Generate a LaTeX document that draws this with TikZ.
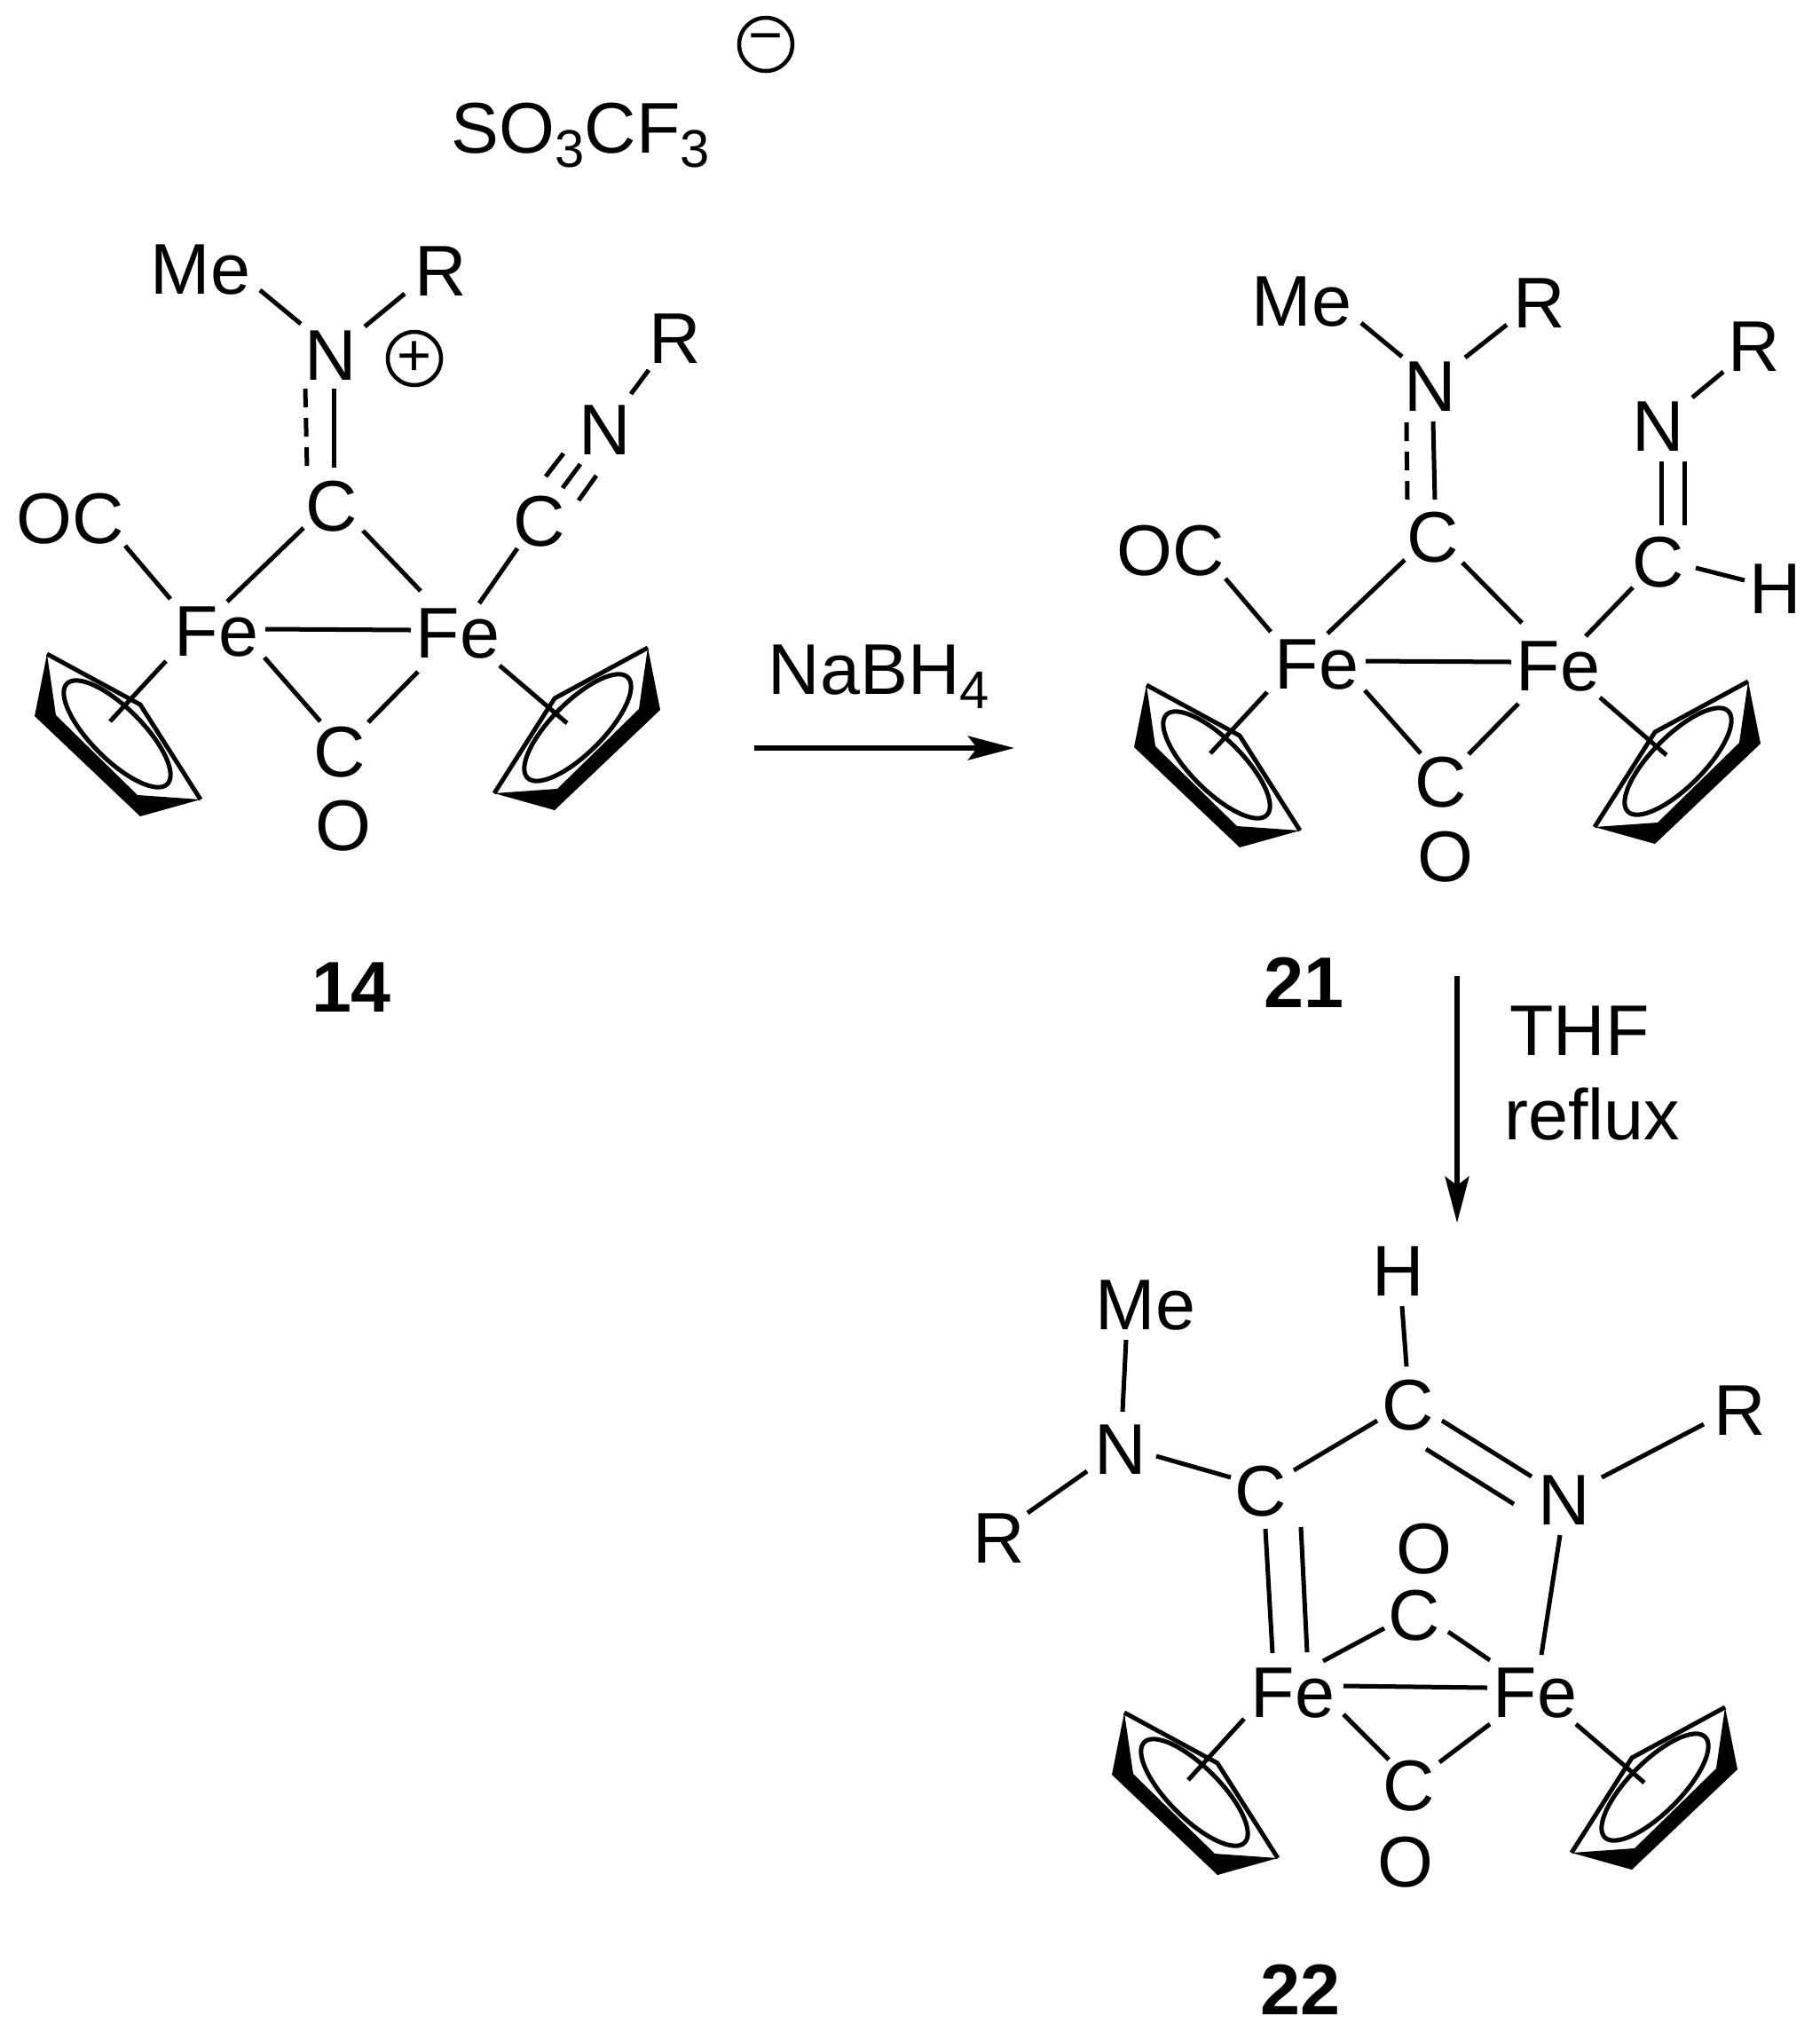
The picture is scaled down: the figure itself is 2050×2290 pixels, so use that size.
\documentclass[tikz,border=0pt]{standalone}
\usepackage{fontspec}
\setmainfont{Liberation Sans}
\usetikzlibrary{arrows.meta}
\tikzset{
	atom/.style={font=\fontsize{23}{26}\selectfont,inner sep=0pt},
	lbl/.style={font=\fontsize{23}{26}\selectfont\bfseries,inner sep=0pt},
	bond/.style={line width=.05cm},
	charge/.style={draw,circle,line width=.045cm,minimum size=.6cm,inner sep=0pt,font=\fontsize{19}{20}\selectfont},
	cp/.pic={
		\fill (-79,-90) -- (-93,-20) -- (26,93) -- (94,74) -- (23,69) -- (-69,-21) -- cycle;
		\draw[bond,line join=round] (-79,-90) -- (26,-33) -- (94,74);
		\draw[bond,rotate=-45] (0,0) ellipse (80 and 29);
	}
}
\newcommand{\bnd}[5][]{\draw[bond,#1] ([shift={(#3)}]#2.center) -- ([shift={(#5)}]#4.center);}
\newcommand{\lowidx}[1]{\raisebox{-.2em}{\fontsize{17}{18}\selectfont #1}}
\begin{document}
\begin{tikzpicture}[x=.01cm,y=-.01cm,>={Stealth[length=.52cm,width=.27cm,inset=.1cm]}]
	\useasboundingbox (0,0) rectangle (2050,2290);
	% counter ion
	\node[atom,anchor=base west] (so) at (508,172) {SO\lowidx{3}CF\lowidx{3}};
	\node[charge] (minus) at (863,50) {−};
	% 14
	\node[atom] (me14) at (226,304) {Me};
	\node[atom] (r14) at (497,306) {R};
	\node[atom] (n14) at (373,401) {N};
	\node[charge] (plus14) at (467,404) {+};
	\node[atom] (c14) at (374,571) {C};
	\node[atom] (oc14) at (79,585) {OC};
	\node[atom] (fel14) at (244,712) {Fe};
	\node[atom] (fer14) at (516,714) {Fe};
	\node[atom] (cn14) at (608,588) {C};
	\node[atom] (nn14) at (682,485) {N};
	\node[atom] (rr14) at (761,382) {R};
	\node[atom] (cb14) at (383,848) {C};
	\node[atom] (ob14) at (387,931) {O};
	\node[lbl] (lbl14) at (396,1113) {14};
	\coordinate (cpl14) at (132,827);
	\coordinate (cpr14) at (651,820);
	\pic at (cpl14) {cp};
	\pic[xscale=-1] at (cpr14) {cp};
	\bnd{me14}{67,23}{n14}{-34,-36}
	\bnd{r14}{-41,25}{n14}{38,-33}
	\bnd{n14}{3,37}{c14}{2,-44}
	\bnd[dash pattern=on .21cm off .12cm]{n14}{-29,37}{c14}{-28,-44}
	\bnd{c14}{-32,24}{fel14}{12,-34}
	\bnd{c14}{35,27}{fer14}{-42,-48}
	\bnd{oc14}{62,30}{fel14}{-52,-37}
	\bnd{cn14}{-25,30}{fer14}{24,-34}
	\bnd{cn14}{7,-51}{nn14}{-47,26}
	\bnd{cn14}{26,-38}{nn14}{-28,38}
	\bnd{cn14}{44,-24}{nn14}{-10,51}
	\bnd{nn14}{29,-41}{rr14}{-30,35}
	\bnd{fel14}{55,-3}{fer14}{-53,-4}
	\bnd{fel14}{54,29}{cb14}{-22,-35}
	\bnd{fer14}{-45,43}{cb14}{32,-34}
	\bnd{fel14}{-57,33}{cpl14}{-8,-14}
	\bnd{fer14}{47,36}{cpr14}{-12,-5}
	% 21
	\node[atom] (me21) at (1467,340) {Me};
	\node[atom] (r21) at (1735,342) {R};
	\node[atom] (n21) at (1612,436) {N};
	\node[atom] (c21) at (1615,606) {C};
	\node[atom] (oc21) at (1319,621) {OC};
	\node[atom] (fel21) at (1484,749) {Fe};
	\node[atom] (fer21) at (1756,751) {Fe};
	\node[atom] (cn21) at (1869,634) {C};
	\node[atom] (nn21) at (1869,481) {N};
	\node[atom] (rr21) at (1977,391) {R};
	\node[atom] (h21) at (2001,664) {H};
	\node[atom] (cb21) at (1624,882) {C};
	\node[atom] (ob21) at (1629,966) {O};
	\node[lbl] (lbl21) at (1469,1107) {21};
	\coordinate (cpl21) at (1371,862);
	\coordinate (cpr21) at (1891,858);
	\pic at (cpl21) {cp};
	\pic[xscale=-1] at (cpr21) {cp};
	\bnd{me21}{67,24}{n21}{-32,-34}
	\bnd{r21}{-37,24}{n21}{39,-33}
	\bnd{n21}{3,39}{c21}{2,-43}
	\bnd[dash pattern=on .21cm off .12cm]{n21}{-27,40}{c21}{-29,-43}
	\bnd{c21}{-32,25}{fel21}{12,-35}
	\bnd{c21}{33,28}{fer21}{-41,-49}
	\bnd{oc21}{62,31}{fel21}{-52,-37}
	\bnd{nn21}{3,39}{cn21}{3,-42}
	\bnd{nn21}{29,39}{cn21}{29,-42}
	\bnd{nn21}{38,-33}{rr21}{-35,28}
	\bnd{cn21}{42,6}{h21}{-35,-10}
	\bnd{cn21}{-29,28}{fer21}{31,-34}
	\bnd{fel21}{55,-4}{fer21}{-53,-5}
	\bnd{fel21}{54,29}{cb21}{-23,-33}
	\bnd{fer21}{-45,42}{cb21}{31,-32}
	\bnd{fel21}{-56,31}{cpl21}{-7,-13}
	\bnd{fer21}{47,35}{cpr21}{-13,-7}
	% 22
	\node[atom] (h22) at (1576,1433) {H};
	\node[atom] (me22) at (1291,1471) {Me};
	\node[atom] (cc22) at (1587,1584) {C};
	\node[atom] (rr22) at (1961,1590) {R};
	\node[atom] (nl22) at (1263,1634) {N};
	\node[atom] (cl22) at (1421,1681) {C};
	\node[atom] (nr22) at (1763,1691) {N};
	\node[atom] (rl22) at (1126,1734) {R};
	\node[atom] (ot22) at (1605,1746) {O};
	\node[atom] (ct22) at (1594,1821) {C};
	\node[atom] (fel22) at (1457,1908) {Fe};
	\node[atom] (fer22) at (1730,1908) {Fe};
	\node[atom] (cb22) at (1588,2013) {C};
	\node[atom] (ob22) at (1584,2099) {O};
	\node[lbl] (lbl22) at (1465,2242) {22};
	\coordinate (cpl22) at (1346,2020);
	\coordinate (cpr22) at (1865,2014);
	\pic at (cpl22) {cp};
	\pic[xscale=-1] at (cpr22) {cp};
	\bnd{h22}{4,39}{cc22}{-2,-44}
	\bnd{me22}{-22,39}{nl22}{2,-43}
	\bnd{nl22}{-38,24}{rl22}{32,-29}
	\bnd{nl22}{40,7}{cl22}{-34,-16}
	\bnd{cl22}{37,-24}{cc22}{-35,17}
	\bnd{cc22}{38,17}{nr22}{-37,-27}
	\bnd{cc22}{20,49}{nr22}{-57,4}
	\bnd{nr22}{42,-26}{rr22}{-41,15}
	\bnd{nr22}{-5,39}{fer22}{7,-43}
	\bnd{cl22}{5,42}{fel22}{-23,-45}
	\bnd{cl22}{45,40}{fel22}{16,-46}
	\bnd{fel22}{34,-36}{ct22}{-34,14}
	\bnd{ct22}{38,18}{fer22}{-51,-37}
	\bnd{fel22}{57,-8}{fer22}{-54,-6}
	\bnd{fel22}{57,24}{cb22}{-23,-30}
	\bnd{fer22}{-51,35}{cb22}{34,-27}
	\bnd{fel22}{-55,29}{cpl22}{-7,-14}
	\bnd{fer22}{46,35}{cpr22}{-12,-5}
	% arrows
	\node[atom,anchor=base west] (nabh) at (865,782) {NaBH\lowidx{4}};
	\node[atom,anchor=base] (thf) at (1780,1189) {THF};
	\node[atom,anchor=base] (reflux) at (1794,1284) {reflux};
	\coordinate (ha) at (850,843);
	\coordinate (hb) at (1143,843);
	\coordinate (va) at (1642,1100);
	\coordinate (vb) at (1642,1378);
	\draw[->,line width=.056cm] (ha) -- (hb);
	\draw[->,line width=.056cm] (va) -- (vb);
\end{tikzpicture}
\end{document}
